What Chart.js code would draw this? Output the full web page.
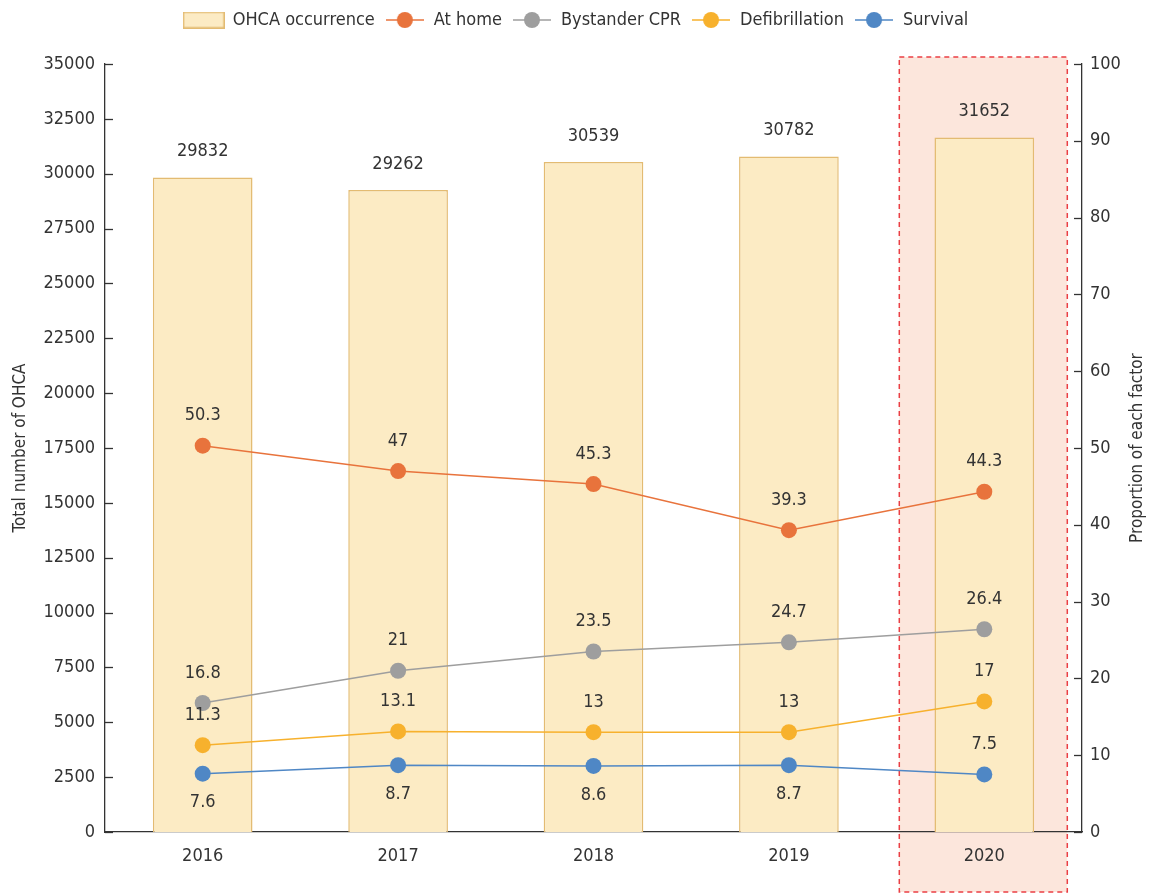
<!DOCTYPE html>
<html>
<head>
<meta charset="utf-8">
<script src="https://cdn.jsdelivr.net/npm/chart.js@4"></script>
<style>
  html, body { margin: 0; background: #fff; }
  #wrap { width: 1152px; height: 894px; }
</style>
</head>
<body>
<div id="wrap"><canvas id="chart"></canvas></div>
<script>
const YEARS = ["2016", "2017", "2018", "2019", "2020"];
const OHCA = [29832, 29262, 30539, 30782, 31652];
const AT_HOME = [50.3, 47, 45.3, 39.3, 44.3];
const BYSTANDER = [16.8, 21, 23.5, 24.7, 26.4];
const DEFIB = [11.3, 13.1, 13, 13, 17];
const SURVIVAL = [7.6, 8.7, 8.6, 8.7, 7.5];
const HIGHLIGHT_YEAR = "2020";
const LEFT_TITLE = "Total number of OHCA";
const RIGHT_TITLE = "Proportion of each factor";

const FONT = "'DejaVu Sans Condensed', 'Liberation Sans Narrow', 'Roboto', sans-serif";
const TEXT = "#333333";
const BAR_FILL = "#fcebc4";
const BAR_EDGE = "#e3bb72";

function lineMarker(color) {
  const c = document.createElement("canvas");
  c.width = 38; c.height = 18;
  const g = c.getContext("2d");
  g.strokeStyle = color; g.lineWidth = 1.5;
  g.beginPath(); g.moveTo(0, 9); g.lineTo(38, 9); g.stroke();
  g.fillStyle = color;
  g.beginPath(); g.arc(19, 9, 8, 0, Math.PI * 2); g.fill();
  return c;
}

function boxMarker() {
  const c = document.createElement("canvas");
  c.width = 42; c.height = 17;
  const g = c.getContext("2d");
  g.fillStyle = BAR_FILL; g.fillRect(0.75, 0.75, 40.5, 15.5);
  g.strokeStyle = BAR_EDGE; g.lineWidth = 1.5; g.strokeRect(0.75, 0.75, 40.5, 15.5);
  return c;
}

function lineSet(label, data, color, below) {
  return {
    type: "line", label, data, yAxisID: "y1", order: 0,
    borderColor: color, backgroundColor: color, borderWidth: 1.5,
    pointRadius: 8, pointHoverRadius: 8, pointBorderWidth: 0,
    pointStyle: "circle", legendMarker: lineMarker(color),
    labelBelow: below || null,
  };
}

const highlightBand = {
  id: "highlightBand",
  beforeDraw(chart) {
    const x = chart.scales.x;
    const cx = x.getPixelForValue(YEARS.indexOf(HIGHLIGHT_YEAR));
    const top = chart.chartArea.top - 7, bottom = chart.height - 2;
    const ctx = chart.ctx;
    ctx.save();
    ctx.fillStyle = "#fce6dc";
    ctx.fillRect(cx - 85, top, 168, bottom - top);
    ctx.strokeStyle = "#ea3f44";
    ctx.lineWidth = 1.5;
    ctx.setLineDash([5, 4]);
    ctx.strokeRect(cx - 85, top, 168, bottom - top);
    ctx.restore();
  },
};

const innerTicks = {
  id: "innerTicks",
  afterDraw(chart) {
    const ctx = chart.ctx;
    ctx.save();
    ctx.strokeStyle = TEXT;
    ctx.lineWidth = 1.3;
    [["y", 1], ["y1", -1]].forEach(([id, dir]) => {
      const s = chart.scales[id];
      const x0 = id === "y" ? s.right : s.left;
      s.ticks.forEach((t) => {
        const py = Math.round(s.getPixelForValue(t.value)) + 0.5;
        ctx.beginPath(); ctx.moveTo(x0, py); ctx.lineTo(x0 + dir * 8, py); ctx.stroke();
      });
    });
    // right axis title reads bottom-to-top like the left one
    const a = chart.chartArea;
    ctx.font = "17px " + FONT;
    ctx.fillStyle = TEXT;
    ctx.textAlign = "center";
    ctx.textBaseline = "middle";
    ctx.translate(1138, (a.top + a.bottom) / 2);
    ctx.rotate(-Math.PI / 2);
    ctx.fillText(RIGHT_TITLE, 0, 0);
    ctx.restore();
  },
};

const valueLabels = {
  id: "valueLabels",
  afterDatasetsDraw(chart) {
    const ctx = chart.ctx;
    ctx.save();
    ctx.font = "18px " + FONT;
    ctx.fillStyle = TEXT;
    ctx.textAlign = "center";
    ctx.textBaseline = "middle";
    chart.data.datasets.forEach((ds, i) => {
      chart.getDatasetMeta(i).data.forEach((el, j) => {
        let y;
        if (ds.type === "bar") y = el.y - 26;
        else y = ds.labelBelow && ds.labelBelow[j] ? el.y + 29 : el.y - 30;
        ctx.fillText(String(ds.data[j]), el.x, y);
      });
    });
    ctx.restore();
  },
};

const legendGap = {
  id: "legendGap",
  afterInit(chart) {
    const lg = chart.legend;
    const fit = lg.fit.bind(lg);
    lg.fit = function () { fit(); this.height += 25; };
  },
};

new Chart(document.getElementById("chart"), {
  data: {
    labels: YEARS,
    datasets: [
      {
        type: "bar", label: "OHCA occurrence", data: OHCA, yAxisID: "y", order: 1,
        backgroundColor: BAR_FILL, borderColor: BAR_EDGE, borderWidth: 1.5,
        barPercentage: 0.51, categoryPercentage: 1, legendMarker: boxMarker(),
      },
      lineSet("At home", AT_HOME, "#e8733c"),
      lineSet("Bystander CPR", BYSTANDER, "#9e9e9e"),
      lineSet("Defibrillation", DEFIB, "#f7b12d"),
      lineSet("Survival", SURVIVAL, "#4f87c5", [true, true, true, true, false]),
    ],
  },
  options: {
    responsive: true,
    maintainAspectRatio: false,
    animation: false,
    layout: { padding: { top: 1 } },
    plugins: {
      tooltip: { enabled: false },
      legend: {
        position: "top",
        labels: {
          color: TEXT,
          font: { family: FONT, size: 18 },
          padding: 10,
          usePointStyle: true,
          pointStyleWidth: 40,
          sort: (a, b) => a.datasetIndex - b.datasetIndex,
          generateLabels(chart) {
            return chart.data.datasets.map((ds, i) => ({
              text: ds.label, datasetIndex: i, pointStyle: ds.legendMarker,
              fontColor: TEXT, hidden: false, lineWidth: 0,
            }));
          },
        },
      },
    },
    scales: {
      x: {
        grid: { display: false, drawTicks: false },
        border: { display: true, color: TEXT, width: 1.3 },
        ticks: { color: TEXT, font: { family: FONT, size: 18 }, padding: 14 },
        afterFit(s) { s.height = 62; },
      },
      y: {
        position: "left", min: 0, max: 35000,
        grid: { display: false, drawTicks: false },
        border: { display: true, color: TEXT, width: 1.3 },
        ticks: { stepSize: 2500, color: TEXT, font: { family: FONT, size: 18 }, padding: 10, callback: (v) => String(v) },
        title: { display: true, text: LEFT_TITLE, color: TEXT, font: { family: FONT, size: 17 }, padding: { top: 10, bottom: 0 } },
        afterFit(s) { s.width = 105; },
      },
      y1: {
        position: "right", min: 0, max: 100,
        grid: { display: false, drawTicks: false },
        border: { display: true, color: TEXT, width: 1.3 },
        ticks: { stepSize: 10, color: TEXT, font: { family: FONT, size: 18 }, padding: 8, callback: (v) => String(v) },
        title: { display: false },
        afterFit(s) { s.width = 70; },
      },
    },
  },
  plugins: [legendGap, highlightBand, innerTicks, valueLabels],
});
</script>
</body>
</html>
